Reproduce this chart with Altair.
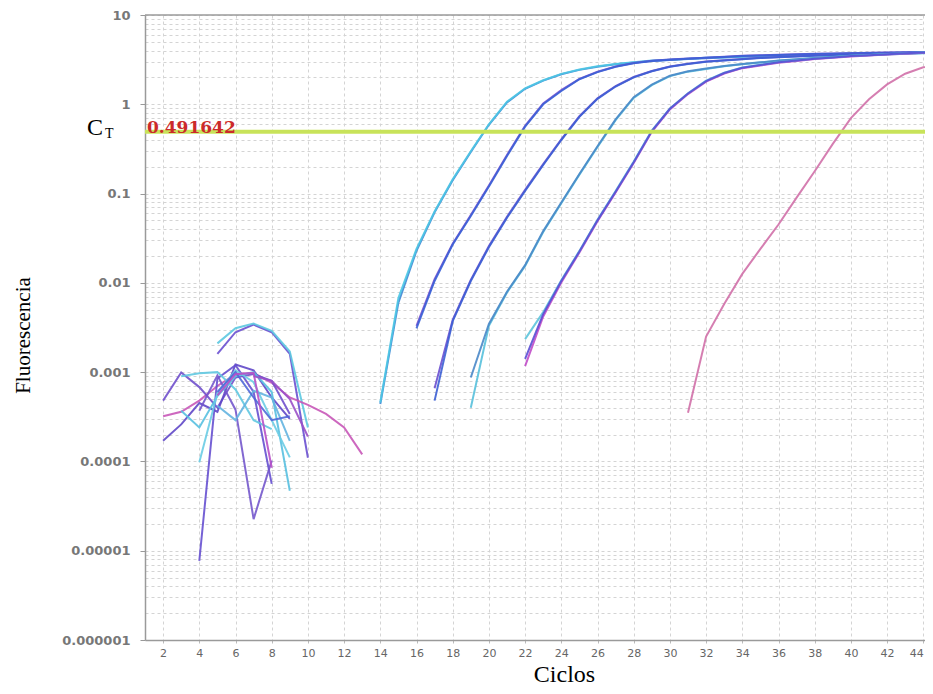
import altair as alt
import pandas as pd

# ---------------- data ----------------
THRESHOLD = 0.491642
X_TICKS = list(range(2, 45, 2))
Y_MAJOR = [1e-6, 1e-5, 1e-4, 1e-3, 1e-2, 1e-1, 1, 10]

# amplification curves (first cycle, fluorescence per cycle)
amp_A1 = [0.000457, 0.00676, 0.0240, 0.0631, 0.145, 0.298, 0.597, 1.07, 1.51, 1.86, 2.19, 2.45, 2.66, 2.82, 2.95, 3.09,
          3.16, 3.24, 3.31, 3.37, 3.43, 3.48, 3.53, 3.57, 3.61, 3.65, 3.69, 3.72, 3.75, 3.78, 3.80, 3.82]
amp_A2 = [0.00044, 0.0060, 0.0229, 0.0617, 0.141, 0.292, 0.589, 1.05, 1.49, 1.84, 2.17, 2.43, 2.64, 2.80, 2.93, 3.05,
          3.13, 3.21, 3.28, 3.34, 3.40, 3.46, 3.51, 3.56, 3.60, 3.64, 3.68, 3.71, 3.74, 3.77, 3.79, 3.81]
amp_B1 = [0.00309, 0.0105, 0.0269, 0.0562, 0.120, 0.263, 0.562, 1.00, 1.41, 1.91, 2.29, 2.63, 2.88, 3.05, 3.16, 3.24,
          3.31, 3.39, 3.47, 3.52, 3.57, 3.61, 3.65, 3.69, 3.72, 3.75, 3.78, 3.80, 3.82, 3.84]
amp_B2 = [0.00330, 0.0110, 0.0275, 0.0575, 0.123, 0.270, 0.575, 1.02, 1.44, 1.93, 2.31, 2.65, 2.90, 3.07, 3.18, 3.26,
          3.33, 3.41, 3.49, 3.54, 3.59, 3.63, 3.67, 3.71, 3.74, 3.77, 3.80, 3.82, 3.84, 3.86]
amp_C1 = [0.00048, 0.00372, 0.0105, 0.0251, 0.0537, 0.107, 0.209, 0.398, 0.724, 1.15, 1.58, 2.00, 2.34, 2.63, 2.82,
          2.99, 3.09, 3.20, 3.29, 3.37, 3.44, 3.50, 3.55, 3.60, 3.64, 3.68, 3.72, 3.75, 3.78]
amp_C2 = [0.00066, 0.00385, 0.0108, 0.0258, 0.0550, 0.110, 0.214, 0.405, 0.735, 1.17, 1.60, 2.02, 2.36, 2.65, 2.84,
          3.01, 3.11, 3.22, 3.31, 3.39, 3.46, 3.52, 3.57, 3.62, 3.66, 3.70, 3.74, 3.77, 3.80]
amp_D1 = [0.00087, 0.00347, 0.00794, 0.0158, 0.0380, 0.0794, 0.166, 0.339, 0.676, 1.20, 1.66, 2.09, 2.34, 2.51, 2.69,
          2.82, 2.95, 3.09, 3.20, 3.31, 3.40, 3.50, 3.57, 3.64, 3.70, 3.75, 3.80]
amp_D2 = [0.00040, 0.00330, 0.00780, 0.0155, 0.0372, 0.0780, 0.163, 0.333, 0.665, 1.18, 1.64, 2.07, 2.32, 2.49, 2.67,
          2.80, 2.93, 3.07, 3.18, 3.29, 3.38, 3.48, 3.55, 3.62, 3.68, 3.73, 3.78]
amp_E1 = [0.00141, 0.00447, 0.0105, 0.0224, 0.0501, 0.105, 0.224, 0.501, 0.891, 1.32, 1.82, 2.24, 2.57, 2.75, 2.95,
          3.09, 3.24, 3.35, 3.47, 3.55, 3.63, 3.72, 3.80, 3.85]
amp_E2 = [0.00117, 0.00420, 0.0101, 0.0219, 0.0490, 0.103, 0.220, 0.492, 0.875, 1.30, 1.79, 2.21, 2.54, 2.72, 2.92,
          3.06, 3.21, 3.32, 3.44, 3.52, 3.60, 3.69, 3.77, 3.82]
amp_E3 = [0.00234, 0.00470, 0.0107, 0.0228, 0.0508, 0.107, 0.228, 0.508, 0.900, 1.33, 1.84, 2.26, 2.59, 2.77, 2.97,
          3.11, 3.26, 3.37, 3.49, 3.57, 3.65, 3.74, 3.82, 3.87]
amp_L = [0.00035, 0.0025, 0.0058, 0.0126, 0.024, 0.045, 0.090, 0.178, 0.36, 0.70, 1.14, 1.67, 2.20, 2.60, 2.85]

# background noise traces of the first cycles
noise_01 = [0.0016, 0.0028, 0.0034, 0.0028, 0.0016, 0.00011]
noise_02 = [0.0021, 0.0031, 0.0035, 0.0029, 0.0017, 0.00024]
noise_03 = [0.00032, 0.00036, 0.00048, 0.00070, 0.00095, 0.00098, 0.00076, 0.00052, 0.00043, 0.00034, 0.00024, 0.00012]
noise_04 = [0.00048, 0.00099, 0.00068, 0.00040, 0.00087, 0.00095, 0.00080, 0.00034]
noise_05 = [0.00017, 0.00026, 0.00045, 0.00036, 0.00122, 0.00105, 0.00052, 0.00030]
noise_06 = [0.0000077, 0.00085, 0.00120, 0.00060, 0.000056]
noise_07 = [0.00037, 0.00092, 0.00038, 0.0000226, 0.000102]
noise_08 = [0.00090, 0.00097, 0.00100, 0.00064, 0.00029, 0.00023]
noise_09 = [0.00037, 0.00024, 0.00054, 0.00090, 0.00100, 0.00060, 0.000047]
noise_10 = [0.0000977, 0.00058, 0.00105, 0.00077, 0.00029, 0.000111]
noise_11 = [0.00042, 0.00029, 0.00062, 0.00052, 0.00017]
noise_12 = [0.00060, 0.00100, 0.00052, 0.00029, 0.00032]
noise_13 = [0.00055, 0.00095, 0.00098, 0.000085]
noise_14 = [0.00090, 0.00080, 0.00050, 0.00019]

# (name, first cycle, values, colour)
SERIES = [
    ("n01", 5, noise_01, "#6a50d0"), ("n02", 5, noise_02, "#5cc8e0"), ("n03", 2, noise_03, "#c858b8"),
    ("n04", 2, noise_04, "#7050cc"), ("n05", 2, noise_05, "#6048c8"), ("n06", 4, noise_06, "#6650d0"),
    ("n07", 4, noise_07, "#7458cc"), ("n08", 3, noise_08, "#60c8e0"), ("n09", 3, noise_09, "#58c0e0"),
    ("n10", 4, noise_10, "#6acce4"), ("n11", 5, noise_11, "#64b4e0"), ("n12", 5, noise_12, "#5068d8"),
    ("n13", 5, noise_13, "#b850c8"), ("n14", 7, noise_14, "#9a50c8"),
    ("a2", 14, amp_A2, "#3f86d4"), ("a1", 14, amp_A1, "#4cc6e4"),
    ("b2", 16, amp_B2, "#7a4fd0"), ("b1", 16, amp_B1, "#3a62d6"),
    ("c2", 17, amp_C2, "#6a4fd0"), ("c1", 17, amp_C1, "#3c5fd4"),
    ("d2", 19, amp_D2, "#56c0dc"), ("d1", 19, amp_D1, "#4a88c8"),
    ("e2", 22, amp_E2, "#c04cc8"), ("e3", 22, amp_E3, "#5cc4dc"), ("e1", 22, amp_E1, "#5a4ed4"),
    ("l1", 31, amp_L, "#d070a8"),
]

rows = []
for name, start, vals, color in SERIES:
    for i, v in enumerate(vals):
        rows.append({"serie": name, "ciclo": start + i, "fluor": v, "color": color})
df = pd.DataFrame(rows)

grid_vals = [k * 10.0 ** e for e in range(-6, 1) for k in range(1, 10)] + [10]
MAJOR = "abs(log(datum.value)/LN10 - round(log(datum.value)/LN10)) < 0.000001"

PLOT_W = 780
XMAX = 1 + PLOT_W / 18.1
x_scale = alt.Scale(domain=[1, XMAX], nice=False, zero=False)
y_scale = alt.Scale(type="log", domain=[1e-6, 10], nice=False)

x_axis = alt.Axis(
    values=X_TICKS, title="Ciclos", grid=True, gridDash=[3, 3], gridColor="#d4d4d4",
    domainColor="#9a9a9a", domainWidth=1.5, tickColor="#bbbbbb", tickSize=3,
    labelFont="DejaVu Sans", labelFontSize=11, labelColor="#666666", labelPadding=4,
    labelFlush=6,
    titleFont="Liberation Serif", titleFontSize=24, titleFontWeight="normal", titleColor="#000000",
    titleX=419, titleY=41, titleBaseline="alphabetic", titleAlign="center",
)
y_axis = alt.Axis(
    values=grid_vals, title="Fluorescencia", grid=True, gridDash=[3, 3], gridColor="#d4d4d4",
    labelExpr=f"({MAJOR}) ? format(datum.value, '.6~f') : ''", labelOverlap=False,
    labelFont="DejaVu Sans", labelFontSize=13, labelFontWeight="bold", labelColor="#777777",
    labelPadding=10, tickSize=5, tickColor="#999999",
    tickOpacity={"condition": {"test": MAJOR, "value": 1}, "value": 0},
    domainColor="#9a9a9a", domainWidth=1.5,
    titleFont="Liberation Serif", titleFontSize=21, titleFontWeight="normal", titleColor="#000000",
    titleX=-122, titleY=320, titleAlign="center", titleBaseline="middle", titleAngle=270,
)

lines = alt.Chart(df).mark_line(strokeWidth=2, clip=True, opacity=0.9).encode(
    x=alt.X("ciclo:Q", scale=x_scale, axis=x_axis),
    y=alt.Y("fluor:Q", scale=y_scale, axis=y_axis),
    detail="serie:N",
    color=alt.Color("color:N", scale=None),
    order="ciclo:Q",
)

thr_df = pd.DataFrame({"t": [THRESHOLD], "label": [f"{THRESHOLD}"]})
top_df = pd.DataFrame({"top": [10]})

top_border = alt.Chart(top_df).mark_rule(color="#9a9a9a", strokeWidth=1.5).encode(
    y=alt.Y("top:Q", scale=y_scale, axis=y_axis)
)
thr_line = alt.Chart(thr_df).mark_rule(color="#c8e35a", strokeWidth=4).encode(
    y=alt.Y("t:Q", scale=y_scale, axis=y_axis)
)
thr_text = alt.Chart(thr_df).mark_text(
    font="DejaVu Serif", fontSize=17, fontWeight="bold", color="#cc2a2a",
    align="left", baseline="alphabetic", dx=2, dy=1,
).encode(
    x=alt.value(0),
    y=alt.Y("t:Q", scale=y_scale, axis=y_axis),
    text="label:N",
)
ct_c = alt.Chart(thr_df).mark_text(
    text="C", font="Liberation Serif", fontSize=24, color="#000000", align="left", baseline="alphabetic", dy=3,
).encode(x=alt.value(-58), y=alt.Y("t:Q", scale=y_scale, axis=y_axis))
ct_t = alt.Chart(thr_df).mark_text(
    text="T", font="Liberation Serif", fontSize=14, color="#000000", align="left", baseline="alphabetic", dy=6,
).encode(x=alt.value(-40), y=alt.Y("t:Q", scale=y_scale, axis=y_axis))

chart = alt.layer(top_border, lines, thr_line, thr_text, ct_c, ct_t).properties(
    width=PLOT_W, height=625,
    padding={"left": 137, "top": 7, "right": 0, "bottom": 46},
    autosize="none",
    background="white",
).configure_view(stroke=None)

chart.save("out.html", embed_options={"renderer": "svg", "actions": False})
